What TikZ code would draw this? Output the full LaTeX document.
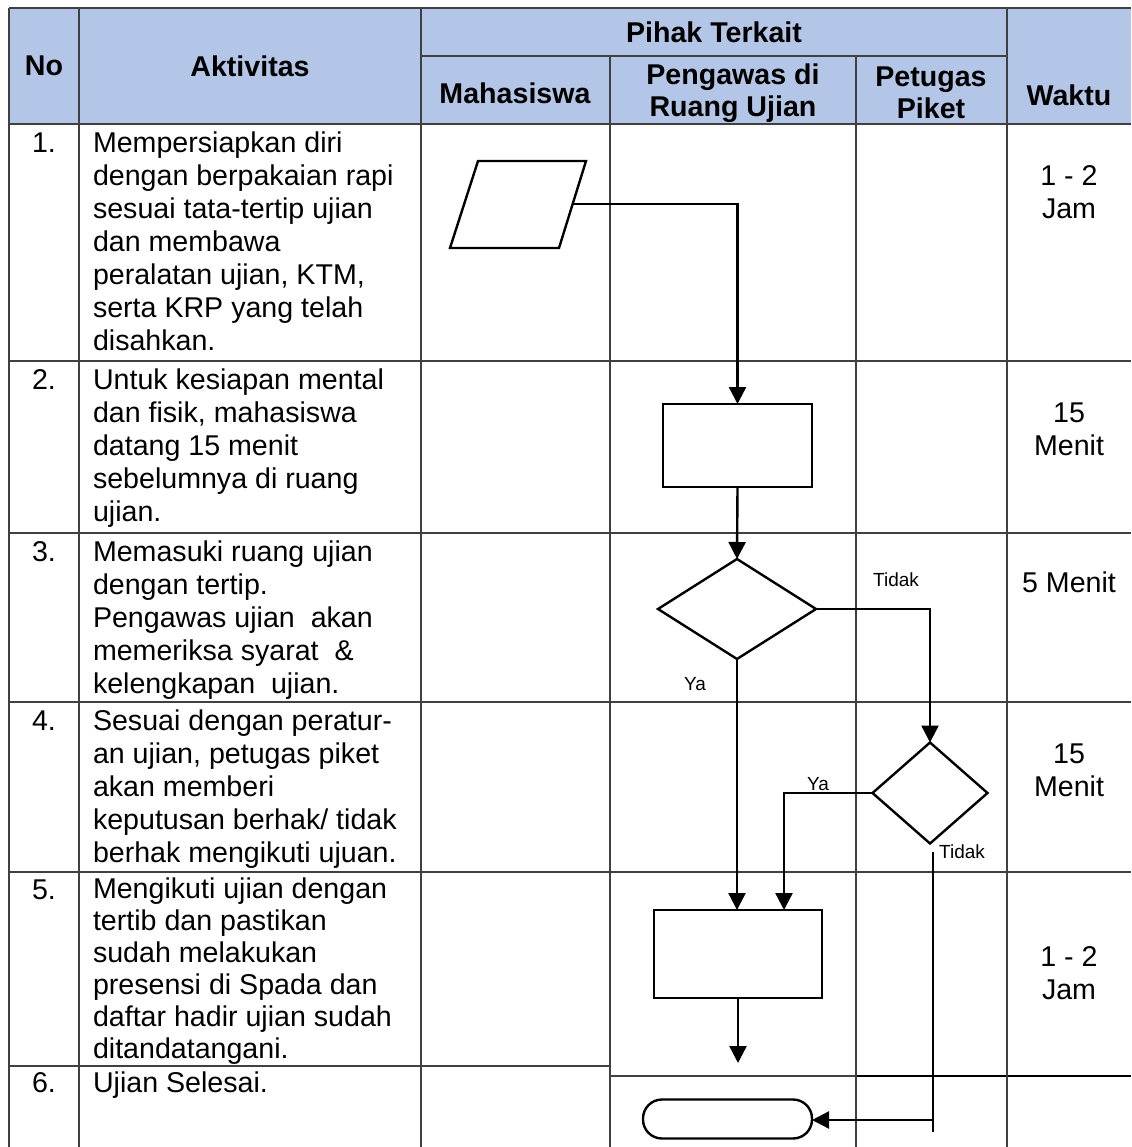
\documentclass[tikz,border=0pt]{standalone}
\usepackage{fontspec}
\setmainfont{Liberation Sans}
\usetikzlibrary{arrows.meta,shapes.geometric}
\begin{document}
\begin{tikzpicture}[x=1pt,y=-1pt,
  tbl/.style={draw=black!75,line width=2pt},
  fl/.style={draw=black,line width=2.4pt},
  arr/.style={fl,-{Triangle[width=17pt,length=17pt]}},
  cell/.style={anchor=north west,inner sep=0pt,outer sep=0pt,align=left,font=\fontsize{28.6pt}{33pt}\selectfont},
  numc/.style={anchor=north,inner sep=0pt,outer sep=0pt,align=center,font=\fontsize{28.6pt}{33pt}\selectfont},
  hdr/.style={inner sep=0pt,outer sep=0pt,align=center,font=\bfseries\fontsize{28.6pt}{32pt}\selectfont},
  lbl/.style={inner sep=0pt,outer sep=0pt,font=\fontsize{19pt}{22pt}\selectfont},
  proc/.style={fl,rectangle,inner sep=0pt,outer sep=0pt},
  dec/.style={fl,diamond,inner sep=0pt,outer sep=0pt},
]
\useasboundingbox (0,0) rectangle (1131,1147);
\definecolor{hdrblue}{HTML}{B4C6E7}
% header fill
\fill[hdrblue] (9,8) rectangle (1131,124);
% table lines
\draw[tbl] (9,8) -- (1131,8);
\draw[tbl] (421,56) -- (1007,56);
\draw[tbl] (9,124) -- (1131,124);
\draw[tbl] (9,361) -- (1131,361);
\draw[tbl] (9,533) -- (1131,533);
\draw[tbl] (9,702) -- (1131,702);
\draw[tbl] (9,872) -- (1131,872);
\draw[tbl] (9,1066) -- (610,1066);
\draw[tbl] (610,1076) -- (856,1076);
\draw[fl] (856,1076) -- (1131,1076);
\draw[tbl] (9,8) -- (9,1147);
\draw[tbl] (79,8) -- (79,1147);
\draw[tbl] (421,8) -- (421,1147);
\draw[tbl] (610,56) -- (610,1147);
\draw[tbl] (856,56) -- (856,1147);
\draw[tbl] (1007,8) -- (1007,1147);
% header text
\node[hdr] (hNo) at (44,66) {No};
\node[hdr] (hAkt) at (250,66) {Aktivitas};
\node[hdr] (hPihak) at (714,32) {Pihak Terkait};
\node[hdr] (hMhs) at (515,93) {Mahasiswa};
\node[hdr] (hPeng) at (733,93) {Pengawas di\\Ruang Ujian};
\node[hdr] (hPet) at (931,93) {Petugas\\Piket};
\node[hdr] (hWak) at (1069,95) {Waktu};
% numbers
\node[numc] (n1) at (44,129) {\strut 1.};
\node[numc] (n2) at (44,366) {\strut 2.};
\node[numc] (n3) at (44,538) {\strut 3.};
\node[numc] (n4) at (44,707) {\strut 4.};
\node[numc] (n5) at (44,876) {\strut 5.};
\node[numc] (n6) at (44,1069) {\strut 6.};
% activities
\node[cell] (a1) at (93,129) {\strut Mempersiapkan diri\\dengan berpakaian rapi\\sesuai tata-tertip ujian\\dan membawa\\peralatan ujian, KTM,\\serta KRP yang telah\\disahkan.};
\node[cell] (a2) at (93,366) {\strut Untuk kesiapan mental\\dan fisik, mahasiswa\\datang 15 menit\\sebelumnya di ruang\\ujian.};
\node[cell] (a3) at (93,538) {\strut Memasuki ruang ujian\\dengan tertip.\\Pengawas ujian\ \ akan\\memeriksa syarat\ \ \&\\kelengkapan\ \ ujian.};
\node[cell] (a4) at (93,707) {\strut Sesuai dengan peratur-\\an ujian, petugas piket\\akan memberi\\keputusan berhak/ tidak\\berhak mengikuti ujuan.};
\node[cell,font=\fontsize{28.6pt}{32pt}\selectfont] (a5) at (93,876) {\strut Mengikuti ujian dengan\\tertib dan pastikan\\sudah melakukan\\presensi di Spada dan\\daftar hadir ujian sudah\\ditandatangani.};
\node[cell] (a6) at (93,1069) {\strut Ujian Selesai.};
% waktu
\node[numc] (w1) at (1069,162) {\strut 1 - 2\\Jam};
\node[numc] (w2) at (1069,399) {\strut 15\\Menit};
\node[numc] (w3) at (1069,569) {\strut 5 Menit};
\node[numc] (w4) at (1069,740) {\strut 15\\Menit};
\node[numc] (w5) at (1069,943) {\strut 1 - 2\\Jam};
% flowchart shapes
\draw[fl] (478,161) -- (586,161) -- (559,248) -- (450,248) -- cycle;
\coordinate (Pe) at (572,204);
\node[proc,minimum width=149pt,minimum height=83pt] (R1) at (737.5,445.5) {};
\node[dec,minimum width=158pt,minimum height=100pt] (D1) at (737,609) {};
\node[dec,minimum width=115pt,minimum height=101pt] (D2) at (930,793) {};
\node[proc,minimum width=168pt,minimum height=88pt] (R2) at (738,954) {};
\node[fl,rectangle,rounded corners=19pt,minimum width=169pt,minimum height=39pt,inner sep=0pt,outer sep=0pt] (T) at (727.5,1119) {};
% connectors
\draw[arr] (Pe) -| (R1.north);
\draw[arr] (R1.south) -- (D1.north);
\draw[arr] (D1.east) -| (D2.north);
\draw[arr] (D1.south) -- (D1.south |- R2.north);
\draw[arr] (D2.west) -| ([xshift=46pt]R2.north);
\coordinate (e5) at (738,1063);
\draw[arr] (R2.south) -- (e5);
\coordinate (t1) at (933,852);
\coordinate (t2) at (933,1132);
\coordinate (t3) at (933,1120);
\draw[fl] (t1) -- (t2);
\draw[arr] (t3) -- (t3 -| T.east);
% labels
\node[lbl] (lT1) at (896,580) {Tidak};
\node[lbl] (lY1) at (695,684) {Ya};
\node[lbl] (lY2) at (818,784) {Ya};
\node[lbl] (lT2) at (962,852) {Tidak};
\end{tikzpicture}
\end{document}
